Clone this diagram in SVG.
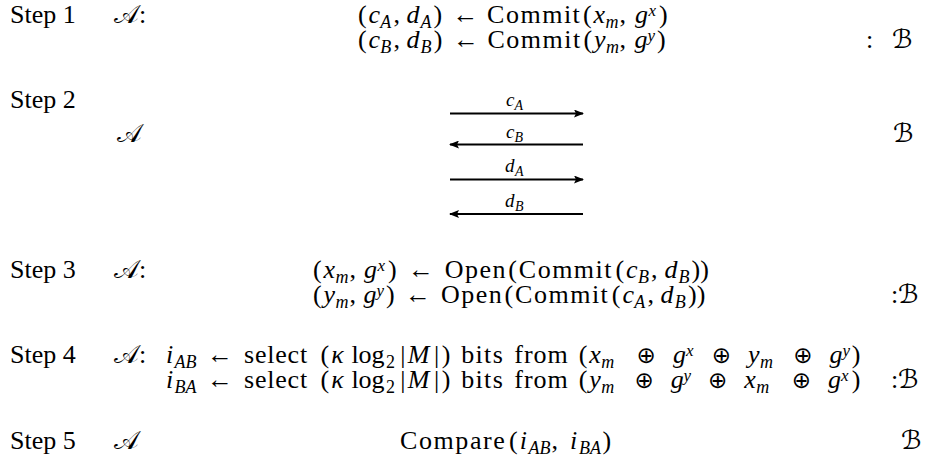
<svg xmlns="http://www.w3.org/2000/svg" width="932" height="475" viewBox="0 0 932 475">
<defs>
<style>
text{font-family:"Liberation Serif","DejaVu Serif",serif;font-size:26px;fill:#000}
.v{font-style:italic}
.s{font-size:18px}
.p{font-size:17px}
.cal{font-family:"DejaVu Serif","DejaVu Sans","Noto Sans",serif;font-size:26px}
.lbl{font-size:19px}
.lbl .s{font-size:14px}
.op{font-family:"DejaVu Sans","DejaVu Serif",sans-serif;font-size:23px}
.wc{letter-spacing:1.5px}
.wo{letter-spacing:1.5px}
.ws{letter-spacing:0.8px}
.wb{letter-spacing:1.3px}
.wf{letter-spacing:1px}
.wp{letter-spacing:1.6px}
.conn{stroke:#000;stroke-width:2;fill:none}
</style>
<marker id="ah" viewBox="0 0 10 8" refX="9" refY="4" markerWidth="10" markerHeight="8" markerUnits="userSpaceOnUse" orient="auto-start-reverse">
<path d="M0,0 L10,4 L0,8 L2,4 Z" fill="#000"/>
</marker>
</defs>
<rect width="932" height="475" fill="#fff"/>

<g id="step1">
<text x="10" y="23">Step 1</text>
<text x="114" y="23"><tspan class="cal">𝒜</tspan>:</text>
<text><tspan x="358" y="23">(</tspan><tspan class="v" x="368.5">c</tspan><tspan class="s v" x="380.2" y="28">A</tspan><tspan x="393.5" y="23">,</tspan><tspan class="v" x="406.4">d</tspan><tspan class="s v" x="420.4" y="28">A</tspan><tspan x="433.5" y="23">)</tspan><tspan x="452.6">←</tspan><tspan class="wc" x="487.1">Commit</tspan><tspan x="583.1">(</tspan><tspan class="v" x="593.6">x</tspan><tspan class="s v" x="605.6" y="28">m</tspan><tspan x="619.5" y="23">,</tspan><tspan class="v" x="635">g</tspan><tspan class="p v" x="648.5" y="15.5">x</tspan><tspan x="659" y="23">)</tspan><tspan x="358" y="48">(</tspan><tspan class="v" x="368.5">c</tspan><tspan class="s v" x="380.2" y="53">B</tspan><tspan x="393.5" y="48">,</tspan><tspan class="v" x="406.6">d</tspan><tspan class="s v" x="420.6" y="53">B</tspan><tspan x="433.8" y="48">)</tspan><tspan x="452.9">←</tspan><tspan class="wc" x="487.4">Commit</tspan><tspan x="583.4">(</tspan><tspan class="v" x="593.9">y</tspan><tspan class="s v" x="605.9" y="53">m</tspan><tspan x="619.5" y="48">,</tspan><tspan class="v" x="634.5">g</tspan><tspan class="p v" x="647.5" y="40.5">y</tspan><tspan x="657" y="48">)</tspan></text>
<text x="866" y="48">: <tspan class="cal" x="892">ℬ</tspan></text>
</g>

<g id="step2">
<text x="10" y="108">Step 2</text>
<text x="117" y="142" class="cal">𝒜</text>
<text x="893" y="142" class="cal">ℬ</text>
<text class="lbl"><tspan class="v" x="506" y="106">c</tspan><tspan class="s v" x="514.5" y="110">A</tspan></text>
<text class="lbl"><tspan class="v" x="506" y="138">c</tspan><tspan class="s v" x="514.5" y="142">B</tspan></text>
<text class="lbl"><tspan class="v" x="505" y="172">d</tspan><tspan class="s v" x="515" y="176">A</tspan></text>
<text class="lbl"><tspan class="v" x="505" y="207">d</tspan><tspan class="s v" x="515" y="211">B</tspan></text>
</g>

<g id="connectors">
<line class="conn" x1="450" y1="113.5" x2="583" y2="113.5" marker-end="url(#ah)"/>
<line class="conn" x1="450" y1="144.5" x2="583" y2="144.5" marker-start="url(#ah)"/>
<line class="conn" x1="450" y1="179.5" x2="583" y2="179.5" marker-end="url(#ah)"/>
<line class="conn" x1="450" y1="214" x2="583" y2="214" marker-start="url(#ah)"/>
</g>

<g id="step3">
<text x="10" y="278">Step 3</text>
<text x="114" y="278"><tspan class="cal">𝒜</tspan>:</text>
<text><tspan x="313" y="278">(</tspan><tspan class="v" x="323.6">x</tspan><tspan class="s v" x="335.6" y="283">m</tspan><tspan x="349.5" y="278">,</tspan><tspan class="v" x="364">g</tspan><tspan class="p v" x="377.5" y="270.5">x</tspan><tspan x="388" y="278">)</tspan><tspan x="408">←</tspan><tspan class="wo" x="444.7">Open</tspan><tspan x="508.2">(</tspan><tspan class="wc" x="518.8">Commit</tspan><tspan x="615.5">(</tspan><tspan class="v" x="626.1">c</tspan><tspan class="s v" x="637.9" y="283">B</tspan><tspan x="651" y="278">,</tspan><tspan class="v" x="664.4">d</tspan><tspan class="s v" x="678.5" y="283">B</tspan><tspan x="691.5" y="278">))</tspan><tspan x="313" y="303">(</tspan><tspan class="v" x="323.6">y</tspan><tspan class="s v" x="335.6" y="308">m</tspan><tspan x="349.5" y="303">,</tspan><tspan class="v" x="363.5">g</tspan><tspan class="p v" x="376.5" y="295.5">y</tspan><tspan x="386" y="303">)</tspan><tspan x="405">←</tspan><tspan class="wo" x="441">Open</tspan><tspan x="504.5">(</tspan><tspan class="wc" x="515.1">Commit</tspan><tspan x="611.8">(</tspan><tspan class="v" x="622.4">c</tspan><tspan class="s v" x="634.2" y="308">A</tspan><tspan x="647.5" y="303">,</tspan><tspan class="v" x="660.6">d</tspan><tspan class="s v" x="674.8" y="308">B</tspan><tspan x="688" y="303">))</tspan></text>
<text x="891" y="303">:<tspan class="cal" x="898">ℬ</tspan></text>
</g>

<g id="step4">
<text x="10" y="363">Step 4</text>
<text x="114" y="363"><tspan class="cal">𝒜</tspan>:</text>
<text><tspan class="v" x="166" y="363">i</tspan><tspan class="s v" x="174.5" y="368">AB</tspan><tspan x="207" y="363">←</tspan><tspan class="ws" x="244">select</tspan><tspan x="320.6">(</tspan><tspan class="v" x="331.2">κ</tspan><tspan x="351.4">log</tspan><tspan class="s" x="386.1" y="368">2</tspan><tspan x="400.2" y="363">|</tspan><tspan class="v" x="407.7">M</tspan><tspan x="434.1">|</tspan><tspan x="441.7">)</tspan><tspan class="wb" x="461.3">bits</tspan><tspan class="wf" x="514.3">from</tspan><tspan x="578.7">(</tspan><tspan class="v" x="589.3">x</tspan><tspan class="s v" x="601.3" y="368">m</tspan><tspan class="op" x="636.6" y="363">⊕</tspan><tspan class="v" x="672.9">g</tspan><tspan class="p v" x="685.9" y="355.5">x</tspan><tspan class="op" x="711.8" y="363">⊕</tspan><tspan class="v" x="748.1">y</tspan><tspan class="s v" x="760.1" y="368">m</tspan><tspan class="op" x="793.3" y="363">⊕</tspan><tspan class="v" x="829.5">g</tspan><tspan class="p v" x="842.5" y="355.5">y</tspan><tspan x="851.8" y="363">)</tspan><tspan class="v" x="166" y="388">i</tspan><tspan class="s v" x="174.5" y="393">BA</tspan><tspan x="207" y="388">←</tspan><tspan class="ws" x="244">select</tspan><tspan x="320.6">(</tspan><tspan class="v" x="331.2">κ</tspan><tspan x="351.4">log</tspan><tspan class="s" x="386.1" y="393">2</tspan><tspan x="400.2" y="388">|</tspan><tspan class="v" x="407.7">M</tspan><tspan x="434.1">|</tspan><tspan x="441.7">)</tspan><tspan class="wb" x="461.3">bits</tspan><tspan class="wf" x="514.3">from</tspan><tspan x="578.7">(</tspan><tspan class="v" x="589.3">y</tspan><tspan class="s v" x="601.3" y="393">m</tspan><tspan class="op" x="634.4" y="388">⊕</tspan><tspan class="v" x="670.7">g</tspan><tspan class="p v" x="683.6" y="380.5">y</tspan><tspan class="op" x="708.1" y="388">⊕</tspan><tspan class="v" x="744.3">x</tspan><tspan class="s v" x="756.3" y="393">m</tspan><tspan class="op" x="791.7" y="388">⊕</tspan><tspan class="v" x="828">g</tspan><tspan class="p v" x="840.9" y="380.5">x</tspan><tspan x="851.8" y="388">)</tspan></text>
<text x="891" y="388">:<tspan class="cal" x="898">ℬ</tspan></text>
</g>

<g id="step5">
<text x="10" y="449">Step 5</text>
<text x="114" y="449" class="cal">𝒜</text>
<text><tspan class="wp" x="400" y="449">Compare</tspan><tspan x="508.9">(</tspan><tspan class="v" x="519.7">i</tspan><tspan class="s v" x="528.5" y="454">AB</tspan><tspan x="551.5" y="449">,</tspan><tspan class="v" x="570">i</tspan><tspan class="s v" x="579" y="454">BA</tspan><tspan x="602.5" y="449">)</tspan></text>
<text x="901" y="449" class="cal">ℬ</text>
</g>
</svg>
